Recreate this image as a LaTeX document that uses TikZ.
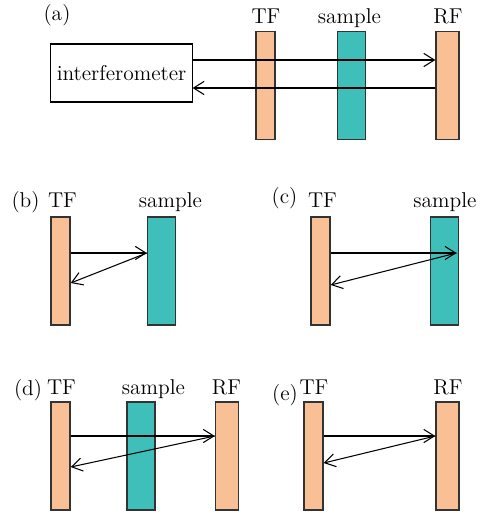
\documentclass[tikz,border=0pt]{standalone}
\usepackage{tikz}
\usetikzlibrary{arrows.meta, calc}
\definecolor{tfcol}{HTML}{F8C094}
\definecolor{smcol}{HTML}{3FBFBA}
\definecolor{barline}{HTML}{333333}
\tikzset{
  tfbar/.style={
    rectangle, draw=barline, line width=0.8pt, fill=tfcol,
    minimum width=0.38cm, minimum height=2.16cm, inner sep=0pt
  },
  rfbar/.style = {tfbar, minimum width=0.46cm},
  smbar/.style = {tfbar, fill=smcol, minimum width=0.56cm},
  ifbox/.style={
    rectangle, draw=black, line width=0.6pt,
    minimum width=2.82cm, minimum height=1.16cm,
    font=\fontsize{12.2}{14}\selectfont
  },
  lab/.style  = {font=\fontsize{12.2}{14}\selectfont, inner sep=0pt, anchor=base},
  ray/.style  = {-{Straight Barb[length=6pt,width=7.5pt]}, line width=0.6pt},
}

\begin{document}
\begin{tikzpicture}[x=0.02cm, y=-0.02cm]
\useasboundingbox (0,0) rectangle (490,513);

%% ── (a) interferometer, TF, sample, RF ──────────────────────────────────────
\node[ifbox] (ifm) at (121.5, 73)  {interferometer};
\node[tfbar] (tfa) at (265.5, 85.5) {};
\node[smbar] (sma) at (351.5, 85.5) {};
\node[rfbar] (rfa) at (447.5, 85.5) {};
\node[lab] (la)   at (57,  21) {(a)};
\node[lab] (tfla) at (266, 24) {TF};
\node[lab] (smla) at (349.5, 24) {sample};
\node[lab] (rfla) at (448, 24) {RF};
\coordinate (a-hi) at (0, 60);
\coordinate (a-lo) at (0, 88);
\draw[ray] (ifm.east |- a-hi) -- (rfa.west |- a-hi);
\draw[ray] (rfa.west |- a-lo) -- (ifm.east |- a-lo);

%% ── (b) TF and sample ───────────────────────────────────────────────────────
\node[tfbar] (tfb) at (60.5, 271) {};
\node[smbar] (smb) at (161.5, 271) {};
\node[lab] (lb)   at (25.5, 207) {(b)};
\node[lab] (tflb) at (62.5, 207) {TF};
\node[lab] (smlb) at (170.5, 207) {sample};
\coordinate (b-hi) at (0, 253);
\coordinate (b-lo) at (0, 283);
\draw[ray] (tfb.east |- b-hi) -- (smb.west |- b-hi);
\draw[ray] (smb.west |- b-hi) -- (tfb.east |- b-lo);

%% ── (c) TF and sample, reflection at the far side ───────────────────────────
\node[tfbar] (tfc) at (320.5, 271) {};
\node[smbar] (smc) at (444.5, 271) {};
\node[lab] (lc)   at (284.5, 203) {(c)};
\node[lab] (tflc) at (322.5, 207) {TF};
\node[lab] (smlc) at (445, 207) {sample};
\coordinate (c-hit) at (456.5, 253);
\coordinate (c-lo) at (0, 285);
\draw[ray] (tfc.east |- c-hit) -- (c-hit);
\draw[ray] (c-hit) -- (tfc.east |- c-lo);

%% ── (d) TF, sample and RF ───────────────────────────────────────────────────
\node[tfbar] (tfd) at (60.5, 456) {};
\node[smbar] (smd) at (141, 456) {};
\node[rfbar] (rfd) at (227, 456) {};
\node[lab] (ld)   at (28, 395) {(d)};
\node[lab] (tfld) at (61.5, 394) {TF};
\node[lab] (smld) at (153.5, 394) {sample};
\node[lab] (rfld) at (226.5, 394) {RF};
\coordinate (d-hi) at (0, 436);
\coordinate (d-lo) at (0, 467);
\draw[ray] (tfd.east |- d-hi) -- (rfd.west |- d-hi);
\draw[ray] (rfd.west |- d-hi) -- (tfd.east |- d-lo);

%% ── (e) TF and RF ───────────────────────────────────────────────────────────
\node[tfbar] (tfe) at (313.5, 456) {};
\node[rfbar] (rfe) at (447.5, 456) {};
\node[lab] (le)   at (285, 400) {(e)};
\node[lab] (tfle) at (314, 394) {TF};
\node[lab] (rfle) at (448, 394) {RF};
\coordinate (e-hi) at (0, 436);
\coordinate (e-lo) at (0, 463);
\draw[ray] (tfe.east |- e-hi) -- (rfe.west |- e-hi);
\draw[ray] (rfe.west |- e-hi) -- (tfe.east |- e-lo);

\end{tikzpicture}
\end{document}
